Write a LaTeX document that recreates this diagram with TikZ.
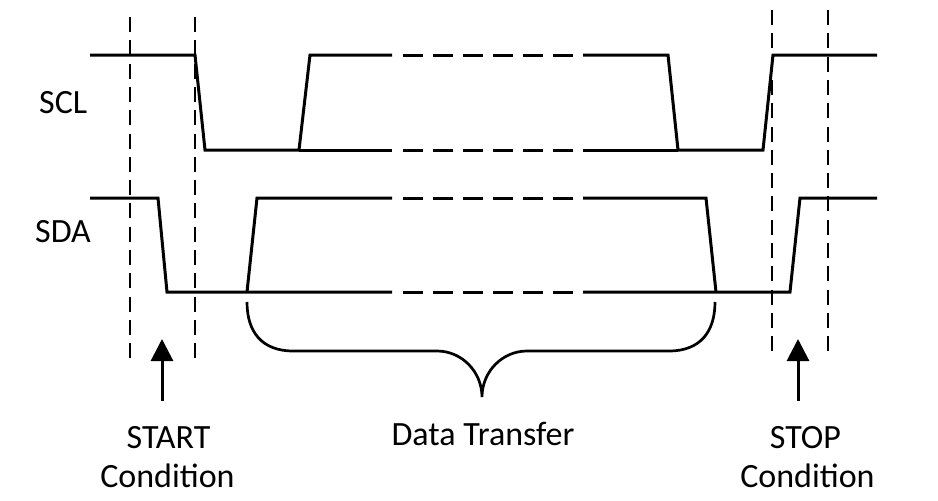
\documentclass[tikz,border=0pt]{standalone}
\usepackage{fontspec}
\setmainfont{Carlito}
\usetikzlibrary{arrows.meta}
\begin{document}
\begin{tikzpicture}[x=1pt,y=-1pt,
  wave/.style={line width=3pt, line join=miter},
  gapdash/.style={line width=3pt, dash pattern=on 20pt off 10pt},
  guide/.style={line width=2.8pt, dash pattern=on 15pt off 8.3pt},
  bracestyle/.style={line width=2.7pt},
  uparrow/.style={line width=3pt, -{Triangle[width=22pt,length=22pt]}},
  lbl/.style={inner sep=0pt, anchor=base, font=\fontsize{34}{39}\selectfont}]
\useasboundingbox (0,0) rectangle (938,501);
% guide lines
\draw[guide] (130,17) -- (130,363);
\draw[guide] (195,17) -- (195,363);
\draw[guide] (772,10) -- (772,356);
\draw[guide] (828,10) -- (828,356);
% SCL
\draw[wave] (90,55) -- (195,55) -- (205,150) -- (299,150) -- (310,55) -- (392,55);
\draw[wave] (299,150) -- (392,150);
\draw[gapdash] (403,55) -- (573,55);
\draw[gapdash] (403,150) -- (573,150);
\draw[wave] (583,55) -- (668,55) -- (678,150) -- (763,150) -- (773,55) -- (877,55);
\draw[wave] (583,150) -- (678,150);
% SDA
\draw[wave] (90,198) -- (158,198) -- (167,292) -- (392,292);
\draw[wave] (247,292) -- (257,198) -- (392,198);
\draw[gapdash] (403,198) -- (573,198);
\draw[gapdash] (403,292) -- (573,292);
\draw[wave] (583,198) -- (706,198) -- (716,292);
\draw[wave] (583,292) -- (790,292) -- (800,198) -- (877,198);
% brace
\draw[bracestyle] (247,302) .. controls (247,332) and (262,351) .. (293,351) -- (437,351)
  .. controls (462,351) and (482,372) .. (482,397)
  .. controls (482,372) and (502,351) .. (527,351) -- (669,351)
  .. controls (700,351) and (715,332) .. (715,302);
% arrows
\coordinate (sa0) at (162,401);
\coordinate (sa1) at (162,339);
\coordinate (pa0) at (798,401);
\coordinate (pa1) at (798,339);
\draw[uparrow] (sa0) -- (sa1);
\draw[uparrow] (pa0) -- (pa1);
% labels
\node[lbl, anchor=base west] (scl) at (39,113) {SCL};
\node[lbl, anchor=base west] (sda) at (35,242) {SDA};
\node[lbl] (start) at (168.5,448) {START};
\node[lbl] (cond1) at (167.5,487) {Condition};
\node[lbl] (data) at (483,445) {Data Transfer};
\node[lbl] (stop) at (805.5,448) {STOP};
\node[lbl] (cond2) at (807.5,487) {Condition};
\end{tikzpicture}
\end{document}
